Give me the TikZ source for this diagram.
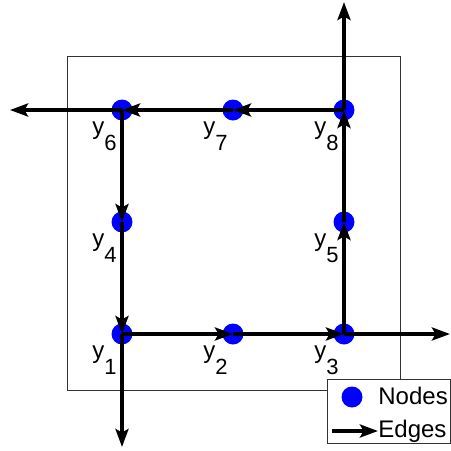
\documentclass[tikz,border=0pt]{standalone}
\usepackage{fontspec}
\setmainfont{Liberation Sans}
\usetikzlibrary{arrows.meta,calc}
\definecolor{nodeblue}{RGB}{0,0,255}
\tikzset{
  every node/.style={font=\fontsize{12}{14}\selectfont},
  dot/.style={circle, fill=nodeblue, inner sep=0pt, minimum size=10.5pt},
  ylab/.style={anchor=north east, inner sep=0pt},
  edge/.style={line width=2pt, -{Stealth[length=9pt,width=6.5pt,inset=1.8pt]}},
  frame/.style={draw=black!80, line width=0.5pt}
}
\newcommand{\ysub}[1]{y\raisebox{-8pt}{\fontsize{11}{13}\selectfont #1}}

\begin{document}
\begin{tikzpicture}[x=0.5pt,y=-0.5pt]
  \useasboundingbox (0,0) rectangle (451,451);

  % axes frame
  \draw[frame] (67,56) rectangle (400,390);

  \foreach \i/\x/\y in {1/122/334,2/233/334,3/344/334,4/122/222,
                        5/344/222,6/122/110,7/233/110,8/344/110} {
    \node[dot] (n\i) at (\x,\y) {};
    \node[ylab] (l\i) at ([shift={(-5,11)}]n\i.center) {\ysub{\i}};
  }
  \coordinate (nL) at (10,110);
  \coordinate (nT) at (344,2);
  \coordinate (nR) at (450,334);
  \coordinate (nB) at (122,447);

  \foreach \a/\b in {1/2,2/3,3/R,1/B,6/4,4/1,3/5,5/8,8/T,8/7,7/6,6/L} {
    \draw[edge] (n\a.center) -- (n\b.center);
  }

  % legend
  \draw[frame, fill=white] (327,379) rectangle (450,443);
  \node[dot] (legdot) at (352,397) {};
  \coordinate (legA) at (332,431);
  \coordinate (legB) at (378,431);
  \draw[edge] (legA) -- (legB);
  \node[anchor=base west, inner sep=0pt] (legN) at (378,404) {Nodes};
  \node[anchor=base west, inner sep=0pt] (legE) at (378,437) {Edges};
\end{tikzpicture}
\end{document}
